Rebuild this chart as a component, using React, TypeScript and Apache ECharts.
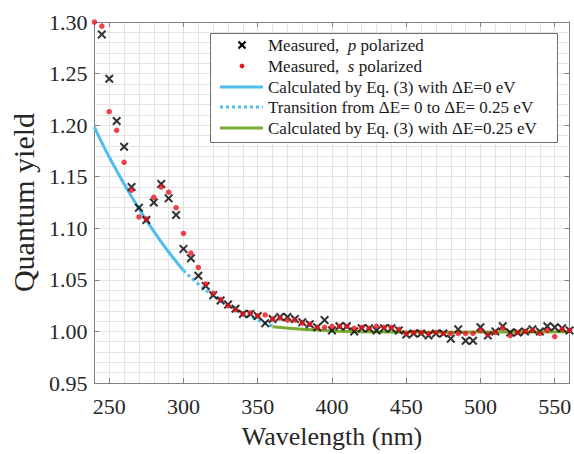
import React, { useEffect, useRef } from "react";
import * as echarts from "echarts";

// Measured, p polarized (black crosses)
const pWavelength = [245, 250, 255, 260, 265, 270, 275, 280, 285, 290, 295, 300, 305, 310, 315, 320, 325, 330, 335, 340, 345, 350, 355, 360, 365, 370, 375, 380, 385, 390, 395, 400, 405, 410, 415, 420, 425, 430, 435, 440, 445, 450, 455, 460, 465, 470, 475, 480, 485, 490, 495, 500, 505, 510, 515, 520, 525, 530, 535, 540, 545, 550, 555, 560];
const pYield = [1.288, 1.245, 1.204, 1.179, 1.140, 1.120, 1.108, 1.125, 1.143, 1.129, 1.113, 1.080, 1.071, 1.054, 1.044, 1.035, 1.030, 1.026, 1.022, 1.017, 1.017, 1.015, 1.008, 1.012, 1.014, 1.014, 1.012, 1.009, 1.007, 1.004, 1.011, 1.001, 1.005, 1.005, 1.000, 1.003, 1.003, 1.001, 1.003, 1.003, 1.001, 0.997, 0.998, 0.998, 0.996, 0.998, 0.998, 0.993, 1.002, 0.991, 0.991, 1.004, 0.996, 1.000, 1.005, 0.999, 0.999, 1.000, 1.002, 1.000, 1.005, 1.004, 1.003, 1.001];

// Measured, s polarized (red dots)
const sWavelength = [240, 245, 250, 255, 260, 265, 270, 275, 280, 285, 290, 295, 300, 305, 310, 315, 320, 325, 330, 335, 340, 345, 350, 355, 360, 365, 370, 375, 380, 385, 390, 395, 400, 405, 410, 415, 420, 425, 430, 435, 440, 445, 450, 455, 460, 465, 470, 475, 480, 485, 490, 495, 500, 505, 510, 515, 520, 525, 530, 535, 540, 545, 550, 555, 560];
const sYield = [1.300, 1.296, 1.213, 1.195, 1.164, 1.137, 1.111, 1.109, 1.130, 1.140, 1.135, 1.120, 1.095, 1.076, 1.062, 1.046, 1.037, 1.031, 1.025, 1.021, 1.017, 1.018, 1.015, 1.016, 1.012, 1.013, 1.011, 1.011, 1.008, 1.007, 1.004, 1.004, 1.005, 1.005, 1.005, 1.003, 1.004, 1.003, 1.005, 1.004, 1.004, 1.002, 0.998, 0.999, 0.999, 0.998, 0.999, 0.998, 0.998, 0.998, 0.998, 0.998, 1.001, 0.997, 0.999, 1.003, 0.996, 0.999, 1.000, 1.001, 0.998, 1.001, 0.995, 1.002, 1.001];

// Calculated, ΔE = 0 eV
const calc0Wavelength = [240, 245, 250, 260, 270, 280, 290, 300];
const calc0Yield = [1.198, 1.183, 1.169, 1.143, 1.119, 1.097, 1.077, 1.059];

// Transition from ΔE = 0 to ΔE = 0.25 eV
const transWavelength = [300, 310, 320, 330, 340, 350, 360];
const transYield = [1.059, 1.046, 1.035, 1.026, 1.018, 1.011, 1.005];

// Calculated, ΔE = 0.25 eV
const calc25Wavelength = [360, 380, 400, 420, 450, 480, 510, 560];
const calc25Yield = [1.0045, 1.002, 1.0005, 0.9998, 0.9994, 0.9993, 0.9994, 0.9997];

const xTickValues = [250, 300, 350, 400, 450, 500, 550];

const legendLabels = [
  "{n|Measured,  }{i|p}{n| polarized}",
  "{n|Measured,  }{i|s}{n| polarized}",
  "Calculated by Eq. (3) with ΔE=0 eV",
  "Transition from ΔE= 0 to ΔE= 0.25 eV",
  "Calculated by Eq. (3) with ΔE=0.25 eV",
];

const FONT = "'Liberation Serif', 'Times New Roman', serif";
const BLUE = "#4DBEEE";
const GREEN = "#77AC30";
const RED = "#E8141C";
const AXIS = "#7f7f7f";
const GRID = "#e3e3e3";

const zip = (xs: number[], ys: number[]) => xs.map((x, i) => [x, ys[i]]);

const crossPath =
  "path://M1.6,0L5,3.4L8.4,0L10,1.6L6.6,5L10,8.4L8.4,10L5,6.6L1.6,10L0,8.4L3.4,5L0,1.6Z";

export default function App() {
  const ref = useRef<HTMLDivElement>(null);
  useEffect(() => {
    if (!ref.current) return;
    const chart = echarts.init(ref.current, null, { renderer: "svg" });

    const lx0 = 220, lx1 = 263, tx = 268;
    const rowY = [45, 66, 87, 107, 128];
    const richStyle = {
      n: { fontFamily: FONT, fontSize: 17, fill: "#1a1a1a" },
      i: { fontFamily: FONT, fontSize: 17, fontStyle: "italic", fill: "#1a1a1a" },
    };
    const legendGraphics: any[] = [
      {
        type: "rect",
        shape: { x: 210.5, y: 33.5, width: 347, height: 109 },
        style: { fill: "#fff", stroke: "#6f6f6f", lineWidth: 1 },
        z: 100,
      },
      { type: "line", shape: { x1: 238.5, y1: rowY[0] - 3.5, x2: 245.5, y2: rowY[0] + 3.5 }, style: { stroke: "#000", lineWidth: 2.2 }, z: 101 },
      { type: "line", shape: { x1: 245.5, y1: rowY[0] - 3.5, x2: 238.5, y2: rowY[0] + 3.5 }, style: { stroke: "#000", lineWidth: 2.2 }, z: 101 },
      { type: "circle", shape: { cx: 242, cy: rowY[1], r: 2.4 }, style: { fill: RED }, z: 101 },
      { type: "line", shape: { x1: lx0, y1: rowY[2], x2: lx1, y2: rowY[2] }, style: { stroke: BLUE, lineWidth: 3 }, z: 101 },
      { type: "line", shape: { x1: lx0, y1: rowY[3], x2: lx1, y2: rowY[3] }, style: { stroke: BLUE, lineWidth: 3, lineDash: [3, 3] }, z: 101 },
      { type: "line", shape: { x1: lx0, y1: rowY[4], x2: lx1, y2: rowY[4] }, style: { stroke: GREEN, lineWidth: 3 }, z: 101 },
    ];
    legendLabels.forEach((t, k) => {
      legendGraphics.push({
        type: "text",
        x: tx,
        y: rowY[k],
        z: 101,
        style: {
          text: t,
          fontFamily: FONT,
          fontSize: 17,
          fill: "#1a1a1a",
          verticalAlign: "middle",
          align: "left",
          rich: richStyle,
        },
      });
    });

    chart.setOption({
      animation: false,
      backgroundColor: "#ffffff",
      grid: { left: 87, right: 4, top: 22, bottom: 64, containLabel: false },
      xAxis: [
        {
          type: "value",
          min: 240,
          max: 560,
          interval: 10,
          position: "bottom",
          axisLine: { show: true, onZero: false, lineStyle: { color: AXIS, width: 1 } },
          axisTick: { show: false },
          axisLabel: { show: false },
          splitLine: { show: true, lineStyle: { color: GRID, width: 1 } },
        },
        {
          type: "value",
          min: 240,
          max: 560,
          position: "bottom",
          axisLine: { show: false, onZero: false },
          axisTick: { show: true, inside: true, length: 5, customValues: xTickValues, lineStyle: { color: AXIS } },
          axisLabel: {
            show: true,
            customValues: xTickValues,
            margin: 12,
            fontFamily: FONT,
            fontSize: 22,
            color: "#262626",
          },
          splitLine: { show: false },
          name: "Wavelength (nm)",
          nameLocation: "middle",
          nameGap: 40,
          nameTextStyle: { fontFamily: FONT, fontSize: 26, color: "#262626" },
        },
        {
          type: "value",
          min: 240,
          max: 560,
          position: "top",
          axisLine: { show: true, onZero: false, lineStyle: { color: AXIS, width: 1 } },
          axisTick: { show: true, inside: true, length: 5, customValues: xTickValues, lineStyle: { color: AXIS } },
          axisLabel: { show: false },
          splitLine: { show: false },
        },
      ],
      yAxis: [
        {
          type: "value",
          min: 0.95,
          max: 1.3,
          interval: 0.05,
          position: "left",
          axisLine: { show: true, onZero: false, lineStyle: { color: AXIS, width: 1 } },
          axisTick: { show: true, inside: true, length: 5, lineStyle: { color: AXIS } },
          axisLabel: {
            margin: 7,
            fontFamily: FONT,
            fontSize: 22,
            color: "#262626",
            formatter: (v: number) => v.toFixed(2),
          },
          splitLine: { show: true, lineStyle: { color: GRID, width: 1 } },
          minorTick: { show: false, splitNumber: 5 },
          minorSplitLine: { show: true, lineStyle: { color: GRID, width: 1 } },
          name: "Quantum yield",
          nameLocation: "middle",
          nameGap: 46,
          nameRotate: 90,
          nameTextStyle: { fontFamily: FONT, fontSize: 30, color: "#262626" },
        },
        {
          type: "value",
          min: 0.95,
          max: 1.3,
          interval: 0.05,
          position: "right",
          axisLine: { show: true, onZero: false, lineStyle: { color: AXIS, width: 1 } },
          axisTick: { show: true, inside: true, length: 5, lineStyle: { color: AXIS } },
          axisLabel: { show: false },
          splitLine: { show: false },
        },
      ],
      series: [
        {
          name: "Calculated by Eq. (3) with ΔE=0 eV",
          type: "line",
          data: zip(calc0Wavelength, calc0Yield),
          smooth: 0.4,
          symbol: "none",
          lineStyle: { color: BLUE, width: 3 },
          z: 2,
        },
        {
          name: "Transition from ΔE= 0 to ΔE= 0.25 eV",
          type: "line",
          data: zip(transWavelength, transYield),
          smooth: 0.4,
          symbol: "none",
          lineStyle: { color: BLUE, width: 3, type: [3, 3] },
          z: 2,
        },
        {
          name: "Calculated by Eq. (3) with ΔE=0.25 eV",
          type: "line",
          data: zip(calc25Wavelength, calc25Yield),
          smooth: 0.4,
          symbol: "none",
          lineStyle: { color: GREEN, width: 3 },
          z: 2,
        },
        {
          name: "Measured, p polarized",
          type: "scatter",
          data: zip(pWavelength, pYield),
          symbol: crossPath,
          symbolSize: 9,
          itemStyle: { color: "#000" },
          z: 3,
        },
        {
          name: "Measured, s polarized",
          type: "scatter",
          data: zip(sWavelength, sYield),
          symbol: "circle",
          symbolSize: 5.5,
          itemStyle: { color: RED },
          z: 4,
        },
      ],
      graphic: legendGraphics,
    });
    return () => chart.dispose();
  }, []);
  return (
    <div
      ref={ref}
      style={{ position: "fixed", left: 0, top: 0, width: 574, height: 454, background: "#fff" }}
    />
  );
}
